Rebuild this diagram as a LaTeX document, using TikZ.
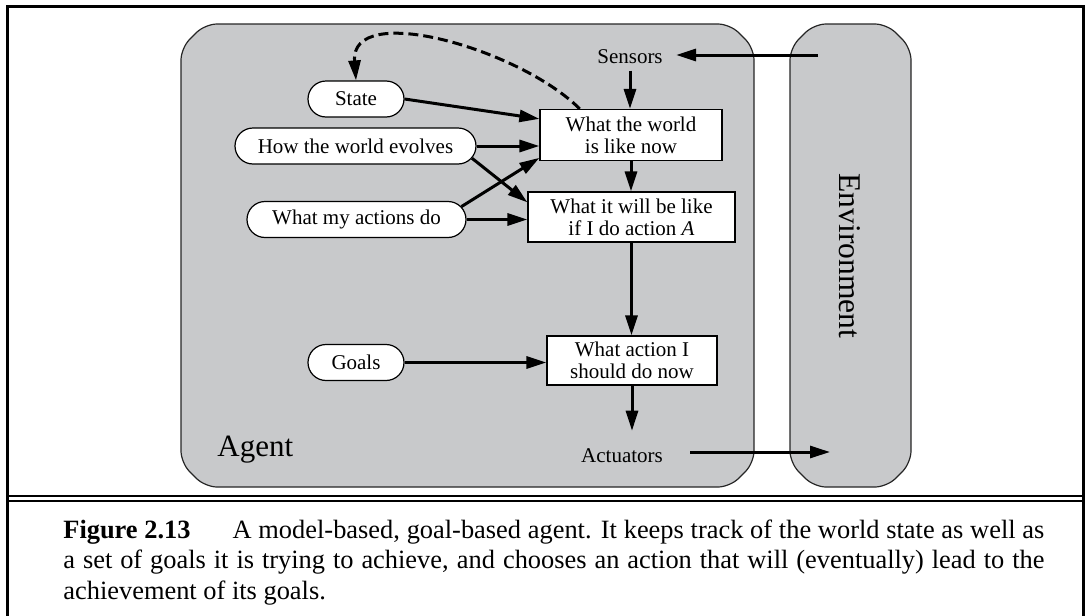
\documentclass[tikz,border=0pt]{standalone}
\usepackage{fontspec}
\setmainfont{Liberation Serif}
\usetikzlibrary{positioning,shapes,arrows.meta}
\definecolor{panelgray}{RGB}{200,201,203}

\begin{document}
\begin{tikzpicture}[x=0.5pt,y=-0.5pt]
\tikzstyle{every node}+=[font=\fontsize{10.5}{11}\selectfont]
\tikzstyle{panel}=[draw=black!85, line width=0.6pt, fill=panelgray, rounded corners=6pt]
\tikzstyle{kbox}=[draw, line width=0.6pt, fill=white, rectangle, align=center, inner sep=0pt]
\tikzstyle{model}=[draw, line width=0.6pt, fill=white, rounded rectangle, inner sep=0pt, minimum height=18pt]
\tikzstyle{link}=[line width=1.5pt, -{Triangle[length=10pt,width=6pt]}]
\tikzstyle{portlabel}=[inner sep=3.5pt, anchor=base]
\useasboundingbox (0,0) rectangle (1089,616);
\draw[line width=1.5pt] (7,620) -- (7,6) -- (1083,6) -- (1083,620);
\draw[line width=1.1pt] (7,496) -- (1083,496);
\draw[line width=1.1pt] (7,501) -- (1083,501);
\draw[panel] (181,48) -- (205,24) -- (730,24) -- (754,48) -- (754,463) -- (730,487) -- (205,487) -- (181,463) -- cycle;
\draw[panel] (790,48) -- (814,24) -- (887,24) -- (911,48) -- (911,463) -- (887,487) -- (814,487) -- (790,463) -- cycle;
\node[anchor=base west, inner sep=0pt, font=\fontsize{15.5}{16}\selectfont] (agent) at (217,456) {Agent};
\node[rotate=-90, inner sep=0pt, font=\fontsize{15.8}{16}\selectfont] (env) at (850,256) {Environment};
\node[portlabel] (sensors) at (630,63) {Sensors};
\node[portlabel] (actuators) at (622,462) {Actuators};
\node[kbox, minimum width=91pt, minimum height=25.5pt] (worldnow) at (631,135) {What the world\\is like now};
\node[kbox, minimum width=103.5pt, minimum height=25pt] (willbe) at (631.5,217) {What it will be like\\if I do action \textit{A}};
\node[kbox, minimum width=85pt, minimum height=24.5pt] (action) at (632,360.5) {What action I\\should do now};
\node[model, minimum width=48pt] (state) at (356,99) {State};
\node[model, minimum width=120.5pt] (evolve) at (355.5,146) {How the world evolves};
\node[model, minimum width=109.5pt] (effects) at (356.5,219.5) {What my actions do};
\node[model, minimum width=48pt] (goals) at (356,362.5) {Goals};
\coordinate (percept) at (818,55);
\coordinate (act) at (830,452);
\draw[link, shorten >=3pt] (percept) -- (percept -| sensors.east);
\draw[link] (sensors.south) -- (sensors.south |- worldnow.north);
\draw[link] (worldnow.south) -- (worldnow.south |- willbe.north);
\draw[link] (willbe.south) -- (willbe.south |- action.north);
\draw[link, shorten >=5pt] (action.south) -- (action.south |- actuators.north);
\draw[link, shorten <=10pt] (act -| actuators.east) -- (act);
\draw[link] (state.east) -- (worldnow.170);
\draw[link] (evolve.east) -- (evolve.east -| worldnow.west);
\draw[link] (evolve.-6) -- (willbe.172);
\draw[link] (effects.7) -- (worldnow.194);
\draw[link] (effects.east) -- (effects.east -| willbe.west);
\draw[link] (goals.east) -- (goals.east -| action.west);
\draw[link, dash pattern=on 5pt off 2.5pt] (worldnow.153) .. controls +(-60,-60) and +(-6,-80) .. (state.north);
\node[anchor=base west, inner sep=0pt, text width=490.5pt, align=justify, font=\fontsize{13.2}{15.25}\selectfont] (caption) at (63,538) {\textbf{Figure 2.13}\hspace{21pt}A model-based, goal-based agent. It keeps track of the world state as well as\linebreak a set of goals it is trying to achieve, and chooses an action that will (eventually) lead to the\linebreak achievement of its goals.};
\end{tikzpicture}
\end{document}
